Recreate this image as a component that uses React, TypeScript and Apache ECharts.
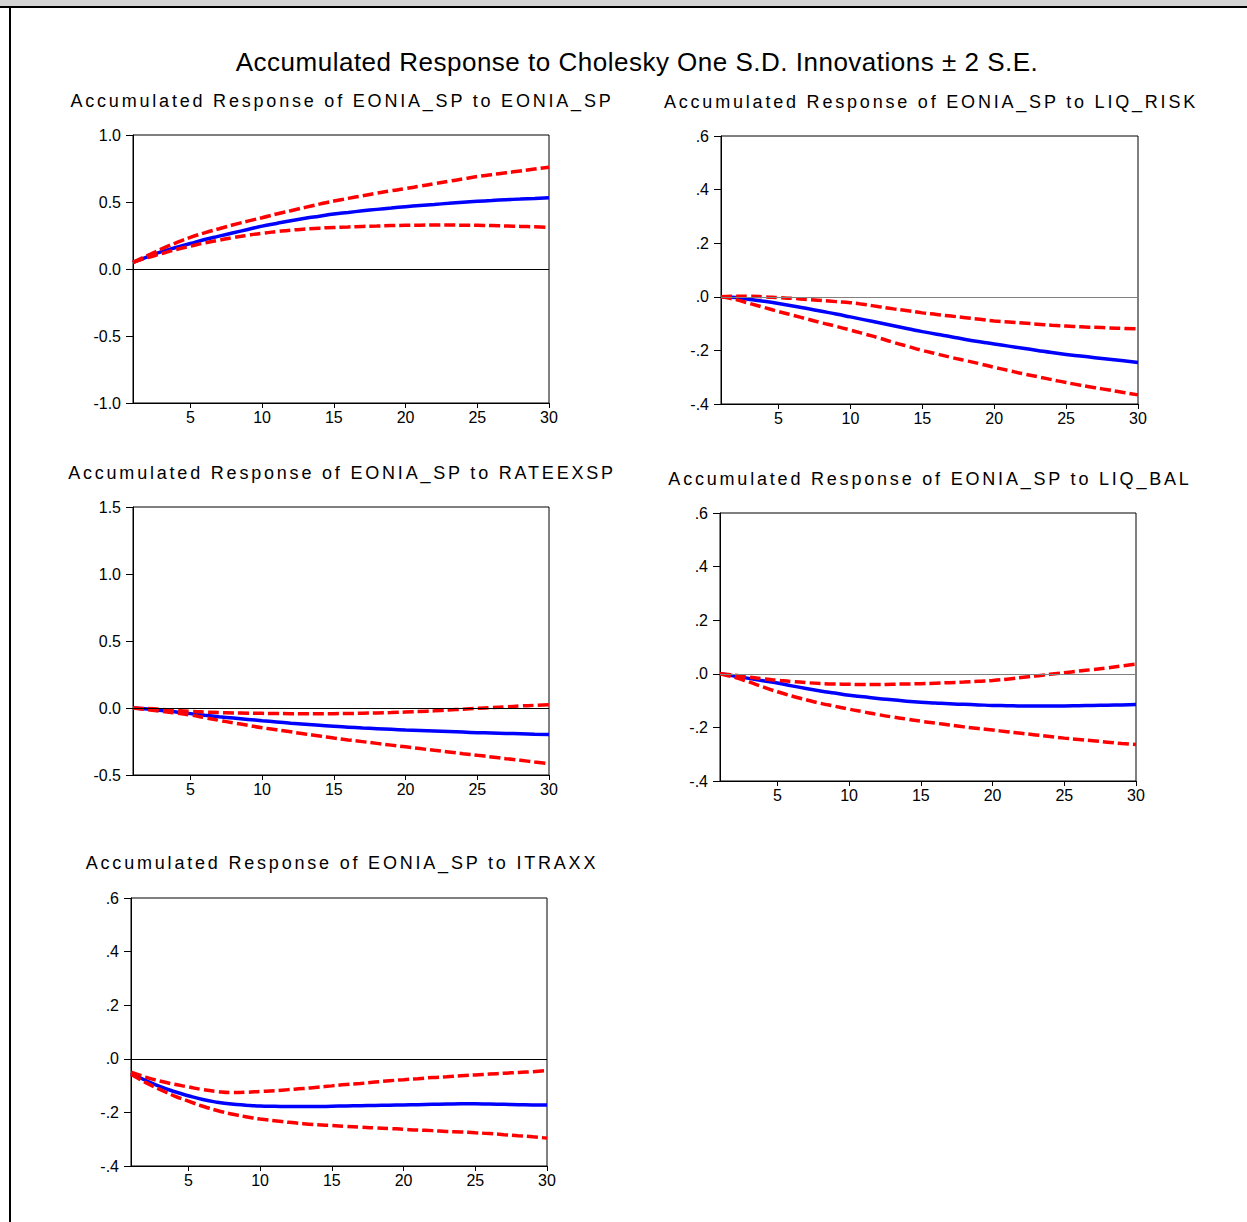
import React, { useEffect, useRef } from "react";
import * as echarts from "echarts";

const periods = ["1","2","3","4","5","6","7","8","9","10","11","12","13","14","15","16","17","18","19","20","21","22","23","24","25","26","27","28","29","30"];

const mainTitle = "Accumulated Response to Cholesky One S.D. Innovations ± 2 S.E.";
const panelTitles = [
  "Accumulated Response of EONIA_SP to EONIA_SP",
  "Accumulated Response of EONIA_SP to LIQ_RISK",
  "Accumulated Response of EONIA_SP to RATEEXSP",
  "Accumulated Response of EONIA_SP to LIQ_BAL",
  "Accumulated Response of EONIA_SP to ITRAXX",
];

// Panel 1: EONIA_SP -> EONIA_SP
const resp1 = [0.05,0.09,0.13,0.16,0.19,0.22,0.245,0.27,0.295,0.32,0.34,0.36,0.378,0.394,0.41,0.422,0.434,0.445,0.455,0.465,0.474,0.482,0.49,0.498,0.505,0.511,0.517,0.522,0.527,0.532];
const up1 = [0.05,0.10,0.15,0.195,0.236,0.27,0.30,0.33,0.357,0.383,0.41,0.435,0.46,0.484,0.507,0.527,0.547,0.566,0.584,0.60,0.618,0.636,0.654,0.672,0.69,0.704,0.718,0.732,0.746,0.76];
const lo1 = [0.05,0.085,0.115,0.145,0.17,0.195,0.215,0.235,0.252,0.267,0.279,0.29,0.298,0.305,0.31,0.314,0.318,0.321,0.324,0.326,0.327,0.328,0.328,0.327,0.326,0.324,0.321,0.318,0.315,0.31];

// Panel 2: LIQ_RISK
const resp2 = [0,-0.003,-0.01,-0.017,-0.025,-0.034,-0.044,-0.054,-0.064,-0.075,-0.086,-0.097,-0.108,-0.119,-0.13,-0.14,-0.149,-0.159,-0.168,-0.176,-0.184,-0.192,-0.2,-0.208,-0.215,-0.221,-0.227,-0.233,-0.239,-0.245];
const up2 = [0,0.002,0.002,0,-0.003,-0.006,-0.01,-0.014,-0.018,-0.022,-0.029,-0.037,-0.045,-0.052,-0.06,-0.066,-0.072,-0.078,-0.084,-0.09,-0.094,-0.098,-0.102,-0.106,-0.109,-0.112,-0.114,-0.116,-0.118,-0.12];
const lo2 = [0,-0.01,-0.025,-0.04,-0.055,-0.069,-0.083,-0.097,-0.11,-0.124,-0.139,-0.154,-0.17,-0.185,-0.2,-0.213,-0.226,-0.238,-0.25,-0.263,-0.275,-0.287,-0.298,-0.309,-0.32,-0.33,-0.339,-0.348,-0.357,-0.366];

// Panel 3: RATEEXSP
const resp3 = [0,-0.008,-0.018,-0.03,-0.042,-0.054,-0.065,-0.075,-0.085,-0.095,-0.104,-0.113,-0.121,-0.129,-0.137,-0.143,-0.149,-0.154,-0.159,-0.164,-0.168,-0.172,-0.176,-0.18,-0.184,-0.187,-0.19,-0.192,-0.195,-0.197];
const up3 = [0,-0.004,-0.01,-0.018,-0.025,-0.03,-0.034,-0.037,-0.039,-0.04,-0.041,-0.042,-0.042,-0.042,-0.042,-0.041,-0.039,-0.037,-0.034,-0.03,-0.026,-0.021,-0.015,-0.009,-0.003,0.003,0.009,0.015,0.02,0.025];
const lo3 = [0,-0.012,-0.025,-0.038,-0.052,-0.072,-0.092,-0.111,-0.129,-0.147,-0.163,-0.178,-0.194,-0.209,-0.224,-0.238,-0.251,-0.264,-0.277,-0.29,-0.303,-0.316,-0.328,-0.341,-0.353,-0.365,-0.378,-0.39,-0.403,-0.415];

// Panel 4: LIQ_BAL
const resp4 = [0,-0.008,-0.017,-0.026,-0.034,-0.045,-0.055,-0.064,-0.072,-0.08,-0.086,-0.092,-0.097,-0.102,-0.106,-0.109,-0.112,-0.114,-0.116,-0.118,-0.119,-0.12,-0.12,-0.12,-0.12,-0.119,-0.118,-0.117,-0.116,-0.115];
const up4 = [0,-0.005,-0.012,-0.019,-0.024,-0.029,-0.033,-0.036,-0.038,-0.039,-0.04,-0.04,-0.039,-0.038,-0.037,-0.035,-0.033,-0.031,-0.028,-0.025,-0.02,-0.014,-0.008,-0.002,0.004,0.01,0.016,0.022,0.029,0.036];
const lo4 = [0,-0.013,-0.03,-0.049,-0.067,-0.083,-0.097,-0.11,-0.121,-0.132,-0.142,-0.152,-0.161,-0.169,-0.177,-0.184,-0.191,-0.198,-0.204,-0.21,-0.216,-0.222,-0.228,-0.234,-0.24,-0.245,-0.25,-0.255,-0.26,-0.264];

// Panel 5: ITRAXX
const resp5 = [-0.055,-0.08,-0.103,-0.122,-0.138,-0.152,-0.162,-0.169,-0.173,-0.176,-0.177,-0.178,-0.178,-0.178,-0.177,-0.176,-0.175,-0.174,-0.173,-0.172,-0.171,-0.17,-0.169,-0.168,-0.168,-0.169,-0.17,-0.171,-0.172,-0.172];
const up5 = [-0.05,-0.068,-0.083,-0.095,-0.105,-0.115,-0.122,-0.126,-0.125,-0.122,-0.119,-0.115,-0.111,-0.106,-0.101,-0.096,-0.092,-0.087,-0.082,-0.078,-0.074,-0.07,-0.067,-0.063,-0.06,-0.057,-0.054,-0.051,-0.048,-0.044];
const lo5 = [-0.058,-0.088,-0.114,-0.138,-0.158,-0.177,-0.193,-0.206,-0.216,-0.225,-0.231,-0.237,-0.242,-0.246,-0.249,-0.252,-0.255,-0.258,-0.26,-0.263,-0.266,-0.268,-0.271,-0.273,-0.276,-0.279,-0.283,-0.287,-0.291,-0.296];

const yMins = [-1.0, -0.4, -0.5, -0.4, -0.4];
const yMaxs = [1.0, 0.6, 1.5, 0.6, 0.6];
const yIntervals = [0.5, 0.2, 0.5, 0.2, 0.2];
const yLeadingZero = [true, false, true, false, false];
const zeroColors = ["#000000", "#808080", "#000000", "#808080", "#000000"];

const responses = [resp1, resp2, resp3, resp4, resp5];
const uppers = [up1, up2, up3, up4, up5];
const lowers = [lo1, lo2, lo3, lo4, lo5];

const grids = [
  { left: 133, top: 135, width: 416, height: 268 },
  { left: 721, top: 136, width: 417, height: 268 },
  { left: 133, top: 507, width: 416, height: 268 },
  { left: 720, top: 513, width: 416, height: 268 },
  { left: 131, top: 898, width: 416, height: 268 },
];
const titlePos = [
  { x: 342, y: 101 },
  { x: 931, y: 102 },
  { x: 342, y: 473 },
  { x: 930, y: 479 },
  { x: 342, y: 863 },
];

const FONT = "Arial";

export default function App() {
  const ref = useRef<HTMLDivElement>(null);
  useEffect(() => {
    document.body.style.margin = "0";
    if (!ref.current) return;
    const chart = echarts.init(ref.current, null, { renderer: "svg" });
    const showMult5 = (_i: number, v: string) => Number(v) % 5 === 0;

    const xAxes = grids.map((_, i) => ({
      type: "category",
      gridIndex: i,
      data: periods,
      boundaryGap: false,
      axisLine: { onZero: false, lineStyle: { color: "#000", width: 1 } },
      axisTick: { interval: showMult5, length: 5, lineStyle: { color: "#000" } },
      axisLabel: { interval: showMult5, color: "#000", fontSize: 16, fontFamily: FONT, margin: 6 },
      splitLine: { show: false },
    }));
    const yAxes = grids.map((_, i) => ({
      type: "value",
      gridIndex: i,
      min: yMins[i],
      max: yMaxs[i],
      interval: yIntervals[i],
      axisLine: { show: true, onZero: false, lineStyle: { color: "#000", width: 1 } },
      axisTick: { show: true, length: 7, lineStyle: { color: "#000" } },
      axisLabel: {
        color: "#000",
        fontSize: 16,
        fontFamily: FONT,
        margin: 12,
        formatter: (v: number) => {
          const s = (Math.abs(v) < 1e-9 ? 0 : v).toFixed(1);
          return yLeadingZero[i] ? s : s.replace(/^(-?)0\./, "$1.");
        },
      },
      splitLine: { show: false },
    }));

    const series: any[] = [];
    grids.forEach((_, i) => {
      series.push({
        type: "line",
        xAxisIndex: i,
        yAxisIndex: i,
        data: responses[i],
        symbol: "none",
        smooth: true,
        lineStyle: { color: "#0000ff", width: 3.5 },
        markLine: {
          silent: true,
          symbol: "none",
          label: { show: false },
          lineStyle: { color: zeroColors[i], width: 1, type: "solid" },
          data: [{ yAxis: 0 }],
        },
        z: 2,
      });
      series.push({
        type: "line",
        xAxisIndex: i,
        yAxisIndex: i,
        data: uppers[i],
        symbol: "none",
        smooth: true,
        lineStyle: { color: "#ff0000", width: 3.5, type: [11, 4] },
        z: 3,
      });
      series.push({
        type: "line",
        xAxisIndex: i,
        yAxisIndex: i,
        data: lowers[i],
        symbol: "none",
        smooth: true,
        lineStyle: { color: "#ff0000", width: 3.5, type: [11, 4] },
        z: 3,
      });
    });

    const graphic: any[] = [
      { type: "rect", shape: { x: 0, y: 0, width: 1247, height: 6 }, style: { fill: "#d4d4d4" }, silent: true },
      { type: "rect", shape: { x: 0, y: 6, width: 1247, height: 2 }, style: { fill: "#000" }, silent: true },
      { type: "rect", shape: { x: 9, y: 6, width: 2, height: 1216 }, style: { fill: "#000" }, silent: true },
      {
        type: "text",
        x: 637,
        y: 62,
        style: { text: mainTitle, fontSize: 26, fontFamily: FONT, fill: "#000", textAlign: "center", textVerticalAlign: "middle" },
      },
    ];
    panelTitles.forEach((t, i) => {
      graphic.push({
        type: "text",
        x: titlePos[i].x,
        y: titlePos[i].y,
        style: { text: t, fontSize: 18, fontFamily: FONT, fill: "#000", textAlign: "center", textVerticalAlign: "middle" },
      });
    });

    chart.setOption({
      animation: false,
      backgroundColor: "#ffffff",
      grid: grids.map((g) => ({ ...g, show: true, borderColor: "#000", borderWidth: 1, backgroundColor: "transparent" })),
      xAxis: xAxes,
      yAxis: yAxes,
      series,
      graphic,
    });
    return () => chart.dispose();
  }, []);

  return (
    <>
      <style>{`#root svg text[style*="18px"]{letter-spacing:2.8px;} #root svg text[style*="26px"]{letter-spacing:0.5px;}`}</style>
      <div ref={ref} style={{ width: 1247, height: 1222 }} />
    </>
  );
}
